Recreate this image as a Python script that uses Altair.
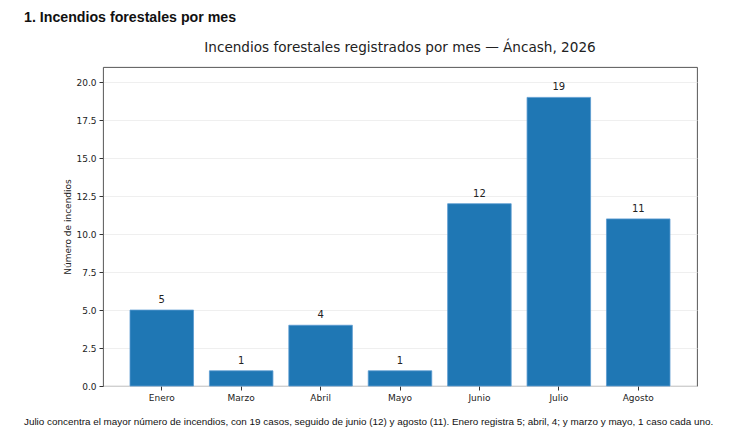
import altair as alt
import pandas as pd

months = ["Enero", "Marzo", "Abril", "Mayo", "Junio", "Julio", "Agosto"]
counts = [5, 1, 4, 1, 12, 19, 11]
y_ticks = [0, 2.5, 5, 7.5, 10, 12.5, 15, 17.5, 20]

heading = "1. Incendios forestales por mes"
title = "Incendios forestales registrados por mes — Áncash, 2026"
caption = ("Julio concentra el mayor número de incendios, con 19 casos, seguido de junio (12) y agosto (11). "
           "Enero registra 5; abril, 4; y marzo y mayo, 1 caso cada uno.")

df = pd.DataFrame({"mes": months, "n": counts})

x = alt.X("mes:N", sort=months, title=None,
          scale=alt.Scale(paddingInner=0.2, paddingOuter=0.34),
          axis=alt.Axis(labelAngle=0, domain=False, ticks=True, tickSize=4,
                        tickColor="#333", labelColor="#222", labelFont="DejaVu Sans",
                        labelFontSize=9, labelPadding=3))
y = alt.Y("n:Q", title="Número de incendios",
          scale=alt.Scale(domain=[0, 21], nice=False),
          axis=alt.Axis(values=y_ticks, format=".1f", domain=False, tickSize=4,
                        tickColor="#333", labelColor="#222", labelFont="DejaVu Sans",
                        labelFontSize=9, grid=True, gridColor="#ebebeb", gridWidth=0.8,
                        titleFont="DejaVu Sans", titleFontSize=9, titleFontWeight="normal",
                        titleColor="#222", titlePadding=3, labelPadding=3))

bars = alt.Chart(df).mark_bar(color="#1f77b4", stroke="#5b9bd0", strokeWidth=0.8).encode(x=x, y=y)
labels = alt.Chart(df).mark_text(baseline="bottom", dy=-5, fontSize=10, font="DejaVu Sans",
                                 color="#222").encode(x=x, y=y, text="n:Q")

head = alt.Chart(pd.DataFrame({"t": [heading]})).mark_text(
    align="left", baseline="middle", font="Liberation Sans", fontWeight="bold",
    fontSize=14.2, color="#111").encode(x=alt.value(-79), y=alt.value(-49), text="t:N")
ttl = alt.Chart(pd.DataFrame({"t": [title]})).mark_text(
    align="center", baseline="middle", font="DejaVu Sans", fontSize=13.6,
    color="#222").encode(x=alt.value(297), y=alt.value(-19), text="t:N")
cap = alt.Chart(pd.DataFrame({"t": [caption]})).mark_text(
    align="left", baseline="middle", font="Liberation Sans", fontSize=9.9,
    color="#111").encode(x=alt.value(-79), y=alt.value(355), text="t:N")

chart = alt.layer(bars, labels, head, ttl, cap).properties(
    width=594, height=319,
    background="white",
    autosize=alt.AutoSizeParams(type="none"),
    padding={"left": 95, "top": 59, "right": 32, "bottom": 48},
).configure_view(stroke="#444", strokeWidth=0.9)

chart.save("out.html", embed_options={"renderer": "svg", "actions": False})
